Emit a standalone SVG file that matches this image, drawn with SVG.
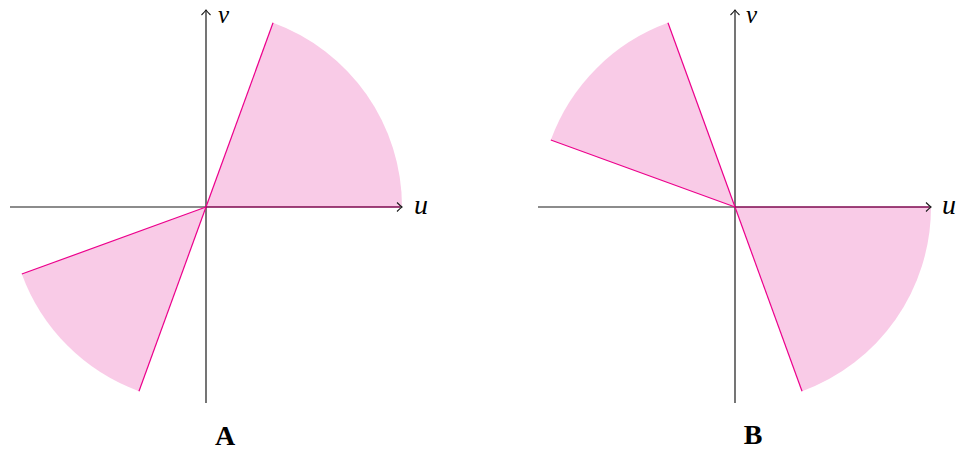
<svg xmlns="http://www.w3.org/2000/svg" width="958" height="455" viewBox="0 0 958 455">
<style>
.sector{fill:#f9cbe7;stroke:none}
.edge{stroke:#ec008c;stroke-width:1.2;fill:none}
.axis{stroke:#1a1a1a;stroke-width:1.2;fill:none;marker-end:url(#arr)}
.var{font-family:"Liberation Serif","DejaVu Serif",serif;font-style:italic;font-size:28px;fill:#000}
.vtop{font-size:25px}
.lab{font-family:"Liberation Serif","DejaVu Serif",serif;font-weight:bold;font-size:28px;fill:#000}
</style>
<defs>
<marker id="arr" viewBox="-6 -6 8 12" refX="0" refY="0" markerWidth="8" markerHeight="12" markerUnits="userSpaceOnUse" orient="auto">
<path d="M-5,-4.5 Q-1.5,-1 0,0 Q-1.5,1 -5,4.5" fill="none" stroke="#1a1a1a" stroke-width="1.1"/>
</marker>
</defs>
<g id="diagramA">
<g id="A-sector1">
<path class="sector" d="M206,207 L402,207 A196,196 0 0 0 273.04,22.82 Z"/>
</g>
<g id="A-sector2">
<path class="sector" d="M206,207 L21.82,274.04 A196,196 0 0 0 138.96,391.18 Z"/>
</g>
<g id="A-axes">
<line class="axis" x1="10" y1="207" x2="402" y2="207"/>
<line class="axis" x1="206" y1="403" x2="206" y2="10"/>
</g>
<g id="A-edges">
<line class="edge" x1="206" y1="207" x2="273.04" y2="22.82"/>
<line class="edge" x1="206" y1="207" x2="21.82" y2="274.04"/>
<line class="edge" x1="206" y1="207" x2="138.96" y2="391.18"/>
<line x1="206" y1="207" x2="400" y2="207" stroke="#b0006a" stroke-width="1.2"/>
</g>
<text class="var" x="414" y="214">u</text>
<text class="var vtop" x="218" y="22.5">v</text>
<text class="lab" x="225" y="445" text-anchor="middle">A</text>
</g>
<g id="diagramB">
<g id="B-sector1">
<path class="sector" d="M735,207 L802.04,391.18 A196,196 0 0 0 931,207 Z"/>
</g>
<g id="B-sector2">
<path class="sector" d="M735,207 L667.96,22.82 A196,196 0 0 0 550.82,139.96 Z"/>
</g>
<g id="B-axes">
<line class="axis" x1="538" y1="207" x2="931" y2="207"/>
<line class="axis" x1="735" y1="403" x2="735" y2="10"/>
</g>
<g id="B-edges">
<line class="edge" x1="735" y1="207" x2="802.04" y2="391.18"/>
<line class="edge" x1="735" y1="207" x2="667.96" y2="22.82"/>
<line class="edge" x1="735" y1="207" x2="550.82" y2="139.96"/>
<line x1="735" y1="207" x2="929" y2="207" stroke="#b0006a" stroke-width="1.2"/>
</g>
<text class="var" x="942" y="214">u</text>
<text class="var vtop" x="746" y="22.5">v</text>
<text class="lab" x="753" y="444" text-anchor="middle">B</text>
</g>
</svg>
